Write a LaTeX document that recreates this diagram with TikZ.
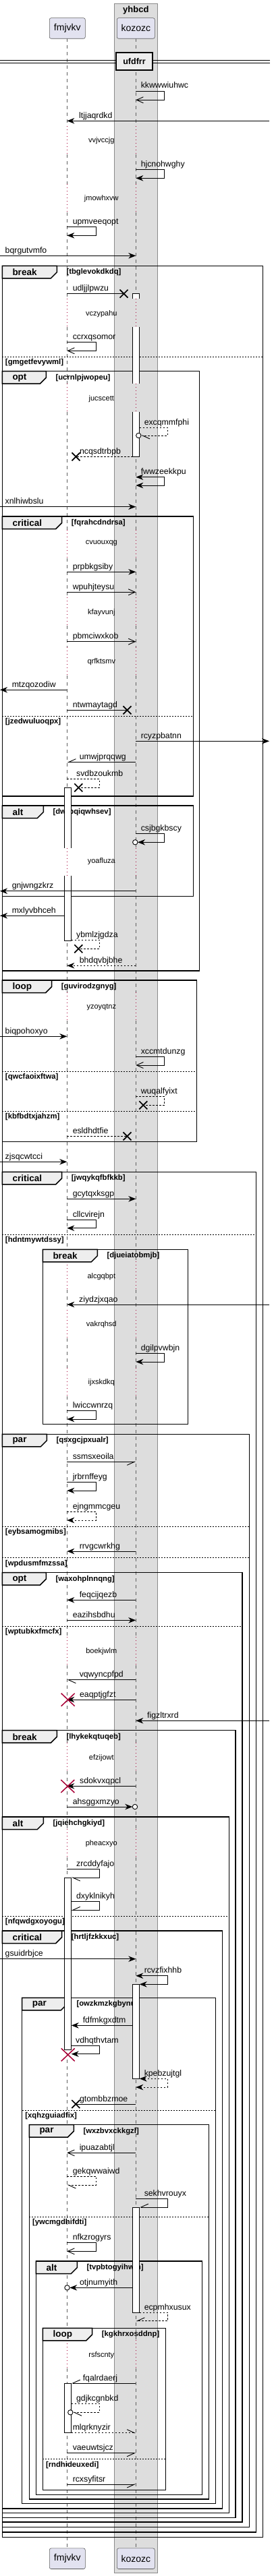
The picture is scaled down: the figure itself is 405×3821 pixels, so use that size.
\documentclass[tikz,border=0pt]{standalone}
\usepackage{fontspec}
\setmainfont{Liberation Sans}
\usetikzlibrary{arrows.meta}
\definecolor{partfill}{HTML}{E2E2F0}
\definecolor{partline}{HTML}{5A5A5A}
\definecolor{boxgrey}{HTML}{DDDDDD}
\definecolor{boxline}{HTML}{8A8A8A}
\definecolor{tabgrey}{HTML}{EEEEEE}
\definecolor{plred}{HTML}{A80036}
\definecolor{lifegrey}{HTML}{606060}
\tikzset{
  msg/.style={line width=0.9pt, draw=black},
  dmsg/.style={msg, dash pattern=on 2.5pt off 2.5pt},
  tf/.style={-{Stealth[length=11pt,width=8.5pt,inset=3.5pt]}},
  tb/.style={{Stealth[length=11pt,width=8.5pt,inset=3.5pt]}-{Stealth[length=11pt,width=8.5pt,inset=3.5pt]}},
  topen/.style={-{Straight Barb[length=10pt,width=9pt]}},
  hl/.style={-{Straight Barb[length=11pt,width=10pt,left]}},
  hr/.style={-{Straight Barb[length=11pt,width=10pt,right]}},
  endo/.style={draw=black, fill=white, line width=0.9pt},
  act/.style={fill=white, draw=black, line width=0.8pt},
  lifeline/.style={draw=lifegrey, line width=0.6pt, dash pattern=on 5pt off 5pt},
  dlyline/.style={draw=plred, line width=0.8pt, dash pattern=on 1pt off 4pt},
  frameline/.style={draw=black, line width=1.5pt},
  elseline/.style={draw=black, line width=0.8pt, dash pattern=on 2pt off 2pt},
  lbl/.style={font=\fontsize{12.3}{14}\selectfont, anchor=base west, inner sep=0pt},
  dly/.style={font=\fontsize{11}{13}\selectfont, inner sep=0pt},
  kw/.style={font=\bfseries\fontsize{13.5}{15}\selectfont, anchor=west, inner sep=0pt},
  cond/.style={font=\bfseries\fontsize{11.3}{13}\selectfont, anchor=west, inner sep=0pt},
  part/.style={rectangle, rounded corners=2.5pt, fill=partfill, draw=partline, line width=0.6pt,
    font=\fontsize{14}{16}\selectfont, minimum width=53pt, minimum height=30.6pt, inner sep=0pt},
  divbox/.style={rectangle, fill=tabgrey, draw=black, line width=2pt, minimum width=54pt,
    minimum height=26.3pt, inner sep=0pt, font=\bfseries\fontsize{12.5}{14}\selectfont},
  lostx/.pic={\draw[line width=1.7pt] (-6,-6) -- (6,6) (-6,6) -- (6,-6);},
  killx/.pic={\draw[line width=1.5pt, plred] (-10,-9.5) -- (10,9.5) (-10,9.5) -- (10,-9.5);}
}
% frame: name, x0, x1, top, bottom, tab right, keyword, condition
\newcommand{\seqframe}[8]{%
  \draw[frameline] (#2,#4) rectangle (#3,#5);
  \draw[frameline, fill=tabgrey] (#2,#4) -- (#6,#4) -- (#6,#4+9.5) -- (#6-9,#4+18.5) -- (#2,#4+18.5) -- cycle;
  \node[kw] (#1k) at (#2+15,#4+9.5) {#7};
  \node[cond] (#1c) at (#6+14,#4+9.5) {#8};}
% else: name, x0, x1, y, condition
\newcommand{\seqelse}[5]{%
  \draw[elseline] (#2,#4) -- (#3,#4);
  \node[cond] (#1) at (#2+4.5,#4+8.7) {#5};}
\begin{document}
\begin{tikzpicture}[x=1pt,y=-1pt]
\useasboundingbox (0,0) rectangle (405,3821);
% Box
\draw[fill=boxgrey, draw=boxline, line width=1pt] (169.3,6) rectangle (233.3,3816);
\node[font=\bfseries\fontsize{13}{15}\selectfont, inner sep=0pt] (yh) at (201.3,15.5) {yhbcd};
% Lifelines
\coordinate (fm) at (99.3,0);
\coordinate (kz) at (201.3,0);
\coordinate (fma) at (105.7,0);
\coordinate (fmb) at (95.7,0);
\coordinate (kza) at (206.7,0);
\coordinate (kzb) at (196.7,0);
\coordinate (west) at (0,0);
\coordinate (east) at (399,0);
\foreach \x in {99.3,201.3}{
  \foreach \a/\b in {57.3/187, 229/273, 315/443.3, 485/569.3, 611/786, 828/886, 928/960, 1002/1257.7,
    1299/1472, 1514/1871, 1913/1943, 1985/2029, 2071/2428, 2470/2585, 2627/2713, 2755/3471, 3513/3779.3}
    \draw[lifeline] (\x,\a) -- (\x,\b);
  \foreach \a/\b in {187/229, 273/315, 443.3/485, 569.3/611, 786/828, 886/928, 960/1002, 1257.7/1299,
    1472/1514, 1871/1913, 1943/1985, 2029/2071, 2428/2470, 2585/2627, 2713/2755, 3471/3513}
    \draw[dlyline] (\x,\a) -- (\x,\b);
}
% Participants
\node[part] (fmT) at (99.8,42) {fmjvkv};
\node[part, minimum width=56pt] (kzT) at (201.3,42) {kozozc};
\node[part] (fmB) at (99.8,3795.2) {fmjvkv};
\node[part, minimum width=56pt] (kzB) at (201.3,3795.2) {kozozc};
% Divider
\draw[line width=1pt] (0,89.3) -- (400,89.3) (0,93.3) -- (400,93.3);
\node[divbox] (uf) at (199,90.9) {ufdfrr};
% Frames
\seqframe{g1}{3.3}{389.3}{394.3}{3763.3}{84.3}{break}{[tbglevokdkdq]}
\seqelse{e1}{3.3}{389.3}{529.3}{[gmgetfevywml]}
\seqframe{g2}{3.3}{295.7}{550.7}{1440}{68.3}{opt}{[ucrnlpjwopeu]}
\seqframe{g3}{3.3}{286.7}{766}{1181}{91.7}{critical}{[fqrahcdndrsa]}
\seqelse{e3}{3.3}{286.7}{1062.3}{[jzedwuluoqpx]}
\seqframe{g4}{3.3}{286.7}{1195}{1329.3}{64.3}{alt}{[dwrbqiqwhsev]}
\seqframe{g5}{3.3}{291.7}{1454}{1693.3}{76.7}{loop}{[guvirodzgnyg]}
\seqelse{e5}{3.3}{291.7}{1589.3}{[qwcfaoixftwa]}
\seqelse{e5b}{3.3}{291.7}{1648.3}{[kbfbdtxjahzm]}
\seqframe{g6}{3.3}{379.3}{1738.3}{3756}{91.7}{critical}{[jwqykqfbfkkb]}
\seqelse{e6}{3.3}{379.3}{1831}{[hdntmywtdssy]}
\seqframe{g7}{63.3}{278.3}{1853.3}{2112.7}{144.3}{break}{[djueiatobmjb]}
\seqframe{g8}{3.3}{369.3}{2127.3}{3748.3}{69.3}{par}{[qsxgcjpxualr]}
\seqelse{e8}{3.3}{369.3}{2264}{[eybsamogmibs]}
\seqelse{e8b}{3.3}{369.3}{2310.7}{[wpdusmfmzssa]}
\seqframe{g9}{3.3}{359}{2332.7}{3741}{68.3}{opt}{[waxohplnnqng]}
\seqelse{e9}{3.3}{359}{2412.3}{[wptubkxfmcfx]}
\seqframe{g10}{3.3}{349}{2566.7}{3734.3}{84.3}{break}{[lhykekqtuqeb]}
\seqframe{g11}{3.3}{339.3}{2695}{3727.7}{64.3}{alt}{[jqiehchgkiyd]}
\seqelse{e11}{3.3}{339.3}{2842.3}{[nfqwdgxoyogu]}
\seqframe{g12}{3.3}{329.3}{2864}{3721}{91.7}{critical}{[hrtljfzkkxuc]}
\seqframe{g13}{32.7}{319.3}{2963.3}{3713.7}{99.3}{par}{[owzkmzkgbynu]}
\seqelse{e13}{32.7}{319.3}{3130}{[xqhzguiadfix]}
\seqframe{g14}{43.3}{309.3}{3151.7}{3707}{109.3}{par}{[wxzbvxckkgzl]}
\seqelse{e14}{43.3}{309.3}{3288.3}{[ywcmgdhifdti]}
\seqframe{g15}{53.3}{299.3}{3354}{3700.3}{114.3}{alt}{[tvpbtogyihwm]}
\seqframe{g16}{63.3}{245.7}{3453.3}{3693.3}{136.7}{loop}{[kgkhrxosddnp]}
\seqelse{e16}{63.3}{245.7}{3647.7}{[rndhideuxedi]}
% Activations
\filldraw[act] (196.7,443.3) -- (196.7,435.7) -- (206.7,435.7) -- (206.7,443.3);
\fill[white] (196.7,485) rectangle (206.7,569.3);
\draw[act] (196.7,485) -- (196.7,569.3) (206.7,485) -- (206.7,569.3);
\filldraw[act] (196.7,611) -- (196.7,677.3) -- (206.7,677.3) -- (206.7,611);
\filldraw[act] (95.7,1257.7) -- (95.7,1168.3) -- (105.7,1168.3) -- (105.7,1257.7);
\filldraw[act] (95.7,1299) -- (95.7,1395) -- (105.7,1395) -- (105.7,1299);
\filldraw[act] (95.7,2785) rectangle (105.7,3040);
\filldraw[act] (196.7,2943.3) rectangle (206.7,3083.3);
\filldraw[act] (196.7,3274) rectangle (206.7,3430);
\filldraw[act] (95.7,3535) rectangle (105.7,3608.7);
% Delays
\node[dly] (d1) at (150.3,209) {vvjvccjg};
\node[dly] (d2) at (150.3,295) {jmowhxvw};
\node[dly] (d3) at (150.3,465.7) {vczypahu};
\node[dly] (d4) at (150.3,591.7) {jucscett};
\node[dly] (d5) at (150.3,806) {cvuouxqg};
\node[dly] (d6) at (150.3,908.3) {kfayvunj};
\node[dly] (d7) at (150.3,981.7) {qrfktsmv};
\node[dly] (d8) at (150.3,1278) {yoafluza};
\node[dly] (d9) at (150.3,1494.3) {yzoyqtnz};
\node[dly] (d10) at (150.3,1893.3) {alcgqbpt};
\node[dly] (d11) at (150.3,1965) {vakrqhsd};
\node[dly] (d12) at (150.3,2050.7) {ijxskdkq};
\node[dly] (d13) at (150.3,2450) {boekjwlm};
\node[dly] (d14) at (150.3,2607.3) {efzijowt};
\node[dly] (d15) at (150.3,2735) {pheacxyo};
\node[dly] (d16) at (150.3,3493.3) {rsfscnty};
% Messages
\draw[msg,topen] (kz |- 0,135) -| (243.3,148.3) -- (kz |- 0,148.3) node[lbl] (m1) at (208.3,131) {kkwwwiuhwc};
\draw[msg,tf] (east |- 0,179.3) -- (fm |- 0,179.3) node[lbl] (m2) at (116.7,175.3) {ltjjaqrdkd};
\draw[msg,tf] (kz |- 0,251.7) -| (243.3,264.3) -- (kz |- 0,264.3) node[lbl] (m3) at (208.3,247.7) {hjcnohwghy};
\draw[msg,tf] (fm |- 0,336.7) -| (142.7,349.3) -- (fm |- 0,349.3) node[lbl] (m4) at (107.3,332.7) {upmveeqopt};
\draw[msg,tf] (west |- 0,379.3) -- (kz |- 0,379.3) node[lbl] (m5) at (7.3,375.3) {bqrgutvmfo};
\draw[msg] (fm |- 0,435.7) -- (183.5,435.7) node[lbl] (m6) at (107.3,431.7) {udljjlpwzu};
\pic at (183.5,435.7) {lostx};
\draw[msg,topen] (fm |- 0,507.7) -| (142.7,520.3) -- (fm |- 0,520.3) node[lbl] (m7) at (107.3,503.7) {ccrxqsomor};
\draw[dmsg,hl] (kza |- 0,634.3) -| (248.3,646) -- (209,646) node[lbl] (m8) at (213.3,630.3) {excqmmfphi};
\draw[endo] (205.3,646) circle[radius=3.7pt];
\draw[dmsg] (kzb |- 0,677.3) -- (112.5,677.3) node[lbl] (m9) at (117.7,673.3) {ncqsdtrbpb};
\pic at (112.5,677.3) {lostx};
\draw[msg,tb] (kz |- 0,707.7) -| (243.3,720) -- (kz |- 0,720) node[lbl] (m10) at (208.3,703.7) {fwwzeekkpu};
\draw[msg,tf] (west |- 0,751.7) -- (kz |- 0,751.7) node[lbl] (m11) at (7.3,747.7) {xnlhiwbslu};
\draw[msg,tf] (fm |- 0,848.3) -- (kz |- 0,848.3) node[lbl] (m12) at (107.3,844.3) {prpbkgsiby};
\draw[msg,topen] (fm |- 0,878.3) -- (kz |- 0,878.3) node[lbl] (m13) at (107.3,874.3) {wpuhjteysu};
\draw[msg,topen] (fm |- 0,951.7) -- (kz |- 0,951.7) node[lbl] (m14) at (107.3,947.7) {pbmciwxkob};
\draw[msg,tf] (fm |- 0,1023.3) -- (west |- 0,1023.3) node[lbl] (m15) at (17.3,1019.3) {mtzqozodiw};
\draw[msg] (fm |- 0,1053.3) -- (188.5,1053.3) node[lbl] (m16) at (107.3,1049.3) {ntwmaytagd};
\pic at (188.5,1053.3) {lostx};
\draw[msg,tf] (kz |- 0,1099.3) -- (east |- 0,1099.3) node[lbl] (m17) at (208.3,1095.3) {rcyzpbatnn};
\draw[msg,hr] (kz |- 0,1130.7) -- (fm |- 0,1130.7) node[lbl] (m18) at (117.3,1126.7) {umwjprqqwg};
\draw[dmsg] (fm |- 0,1155.7) -| (147.3,1168.3) -- (116.3,1168.3) node[lbl] (m19) at (112.7,1151.7) {svdbzoukmb};
\pic at (116.3,1168.3) {lostx};
\draw[msg,tf] (kz |- 0,1236) -| (243.3,1249.3) -- (204,1249.3) node[lbl] (m20) at (208.3,1232) {csjbgkbscy};
\draw[endo] (200.3,1249.3) circle[radius=3.7pt];
\draw[msg,tf] (kz |- 0,1321.7) -- (west |- 0,1321.7) node[lbl] (m21) at (17.3,1317.7) {gnjwngzkrz};
\draw[msg,tf] (fmb |- 0,1358.3) -- (west |- 0,1358.3) node[lbl] (m22) at (17.3,1354.3) {mxlyvbhceh};
\draw[dmsg] (fma |- 0,1394.3) -| (147.3,1407.3) -- (116.3,1407.3) node[lbl] (m23) at (112.7,1390.3) {ybmlzjgdza};
\pic at (116.3,1407.3) {lostx};
\draw[dmsg,tf] (kz |- 0,1432.3) -- (fm |- 0,1432.3) node[lbl] (m24) at (117.3,1428.3) {bhdqvbjbhe};
\draw[msg,tf] (west |- 0,1537.3) -- (fm |- 0,1537.3) node[lbl] (m25) at (7.3,1533.3) {biqpohoxyo};
\draw[msg,topen] (kz |- 0,1567.3) -| (243.3,1580) -- (kz |- 0,1580) node[lbl] (m26) at (208.3,1563.3) {xccmtdunzg};
\draw[dmsg] (kz |- 0,1626) -| (243.3,1639.3) -- (212.3,1639.3) node[lbl] (m27) at (208.3,1622) {wuqalfyixt};
\pic at (212.3,1639.3) {lostx};
\draw[dmsg] (fm |- 0,1685.3) -- (188.5,1685.3) node[lbl] (m28) at (107.3,1681.3) {esldhdtfie};
\pic at (188.5,1685.3) {lostx};
\draw[msg,tf] (west |- 0,1723.3) -- (fm |- 0,1723.3) node[lbl] (m29) at (7.3,1719.3) {zjsqcwtcci};
\draw[msg,tf] (fm |- 0,1778.3) -- (kz |- 0,1778.3) node[lbl] (m30) at (107.3,1774.3) {gcytqxksgp};
\draw[msg,tf] (fm |- 0,1809.3) -| (142.7,1821.7) -- (fm |- 0,1821.7) node[lbl] (m31) at (107.3,1805.3) {cllcvirejn};
\draw[msg,tf] (east |- 0,1935) -- (fm |- 0,1935) node[lbl] (m32) at (116.7,1931) {ziydzjxqao};
\draw[msg,tf] (kz |- 0,2007.7) -| (243.3,2020) -- (kz |- 0,2020) node[lbl] (m33) at (208.3,2003.7) {dgilpvwbjn};
\draw[msg,tf] (fm |- 0,2092.3) -| (142.7,2105) -- (fm |- 0,2105) node[lbl] (m34) at (107.3,2088.3) {lwiccwnrzq};
\draw[msg,hr] (fm |- 0,2168.3) -- (kz |- 0,2168.3) node[lbl] (m35) at (107.3,2164.3) {ssmsxeoila};
\draw[msg,tf] (fm |- 0,2198.3) -| (142.7,2211) -- (fm |- 0,2211) node[lbl] (m36) at (107.3,2194.3) {jrbrnffeyg};
\draw[dmsg,tf] (fm |- 0,2242.7) -| (142.7,2255) -- (fm |- 0,2255) node[lbl] (m37) at (107.3,2238.7) {ejngmmcgeu};
\draw[msg,tf] (kz |- 0,2301) -- (fm |- 0,2301) node[lbl] (m38) at (117.3,2297) {rrvgcwrkhg};
\draw[msg,tf] (kz |- 0,2373.3) -- (fm |- 0,2373.3) node[lbl] (m39) at (117.3,2369.3) {feqcijqezb};
\draw[msg,tf] (fm |- 0,2403.3) -- (kz |- 0,2403.3) node[lbl] (m40) at (107.3,2399.3) {eazihsbdhu};
\draw[msg,hl] (kz |- 0,2491.7) -- (fm |- 0,2491.7) node[lbl] (m41) at (117.3,2487.7) {vqwyncpfpd};
\draw[msg,tf] (kz |- 0,2521) -- (fm |- 0,2521) node[lbl] (m42) at (117.7,2517) {eaqptjgfzt};
\pic at (100.7,2521.2) {killx};
\draw[msg,tf] (east |- 0,2552.3) -- (kz |- 0,2552.3) node[lbl] (m43) at (217.7,2548.3) {figzltrxrd};
\draw[msg,tf] (kz |- 0,2649.3) -- (fm |- 0,2649.3) node[lbl] (m44) at (117.7,2645.3) {sdokvxqpcl};
\pic at (100.3,2649.5) {killx};
\draw[msg,tf] (fm |- 0,2680) -- (196.3,2680) node[lbl] (m45) at (107.3,2676) {ahsggxmzyo};
\draw[endo] (200,2680) circle[radius=3.7pt];
\draw[msg,hl] (fm |- 0,2772.3) -| (147.3,2785) -- (fma |- 0,2785) node[lbl] (m46) at (112.7,2768.3) {zrcddyfajo};
\draw[msg,hr] (fma |- 0,2820.7) -| (147.3,2833.3) -- (fma |- 0,2833.3) node[lbl] (m47) at (112.7,2816.7) {dxyklnikyh};
\draw[msg,tf] (west |- 0,2905.7) -- (kz |- 0,2905.7) node[lbl] (m48) at (7.3,2901.7) {gsuidrbjce};
\draw[msg,tb] (kz |- 0,2930.7) -| (248.3,2943.3) -- (kza |- 0,2943.3) node[lbl] (m49) at (213.3,2926.7) {rcvzfixhhb};
\draw[msg,tf] (kzb |- 0,3004.3) -- (fma |- 0,3004.3) node[lbl] (m50) at (122.3,3000.3) {fdfmkgxdtm};
\draw[msg,tf] (fma |- 0,3034.3) -| (147.3,3046.7) -- (fma |- 0,3046.7) node[lbl] (m51) at (111.7,3030.3) {vdhqthvtam};
\pic at (100.7,3047.8) {killx};
\draw[dmsg,tb] (kza |- 0,3083.3) -| (248.3,3096) -- (kz |- 0,3096) node[lbl] (m52) at (213.3,3079.3) {kpebzujtgl};
\draw[msg] (kz |- 0,3121) -- (112.3,3121) node[lbl] (m53) at (117.7,3117) {gtombbzmoe};
\pic at (112.3,3121) {lostx};
\draw[msg,topen] (kz |- 0,3193.3) -- (fm |- 0,3193.3) node[lbl] (m54) at (117.3,3189.3) {ipuazabtjl};
\draw[dmsg,hl] (fm |- 0,3228.3) -| (142.7,3241) -- (fm |- 0,3241) node[lbl] (m55) at (107.3,3224.3) {gekqwwaiwd};
\draw[msg,hr] (kz |- 0,3261) -| (248.3,3274) -- (kza |- 0,3274) node[lbl] (m56) at (213.3,3257) {sekhvrouyx};
\draw[msg,topen] (fm |- 0,3326.7) -| (142.7,3339.3) -- (fm |- 0,3339.3) node[lbl] (m57) at (107.3,3322.7) {nfkzrogyrs};
\draw[msg,tf] (kzb |- 0,3393.3) -- (103.2,3393.3) node[lbl] (m58) at (117.7,3389.3) {otjnumyith};
\draw[endo] (99.5,3393.3) circle[radius=3.7pt];
\draw[dmsg,hr] (kza |- 0,3430) -| (248.3,3442.7) -- (kz |- 0,3442.7) node[lbl] (m59) at (213.3,3426) {ecpmhxusux};
\draw[msg,hr] (kz |- 0,3535) -- (fma |- 0,3535) node[lbl] (m60) at (122.3,3531) {fqalrdaerj};
\draw[dmsg,hl] (fma |- 0,3565.3) -| (147.3,3578.3) -- (108,3578.3) node[lbl] (m61) at (112.7,3561.3) {gdjkcgnbkd};
\draw[endo] (104.3,3578.3) circle[radius=3.7pt];
\draw[dmsg,hl] (fma |- 0,3608.7) -- (kz |- 0,3608.7) node[lbl] (m62) at (107.3,3604.7) {mlqrknyzir};
\draw[msg,hr] (fm |- 0,3638.7) -- (kz |- 0,3638.7) node[lbl] (m63) at (107.3,3634.7) {vaeuwtsjcz};
\draw[msg,hr] (fm |- 0,3685) -- (kz |- 0,3685) node[lbl] (m64) at (107.3,3681) {rcxsyfitsr};
\end{tikzpicture}
\end{document}
